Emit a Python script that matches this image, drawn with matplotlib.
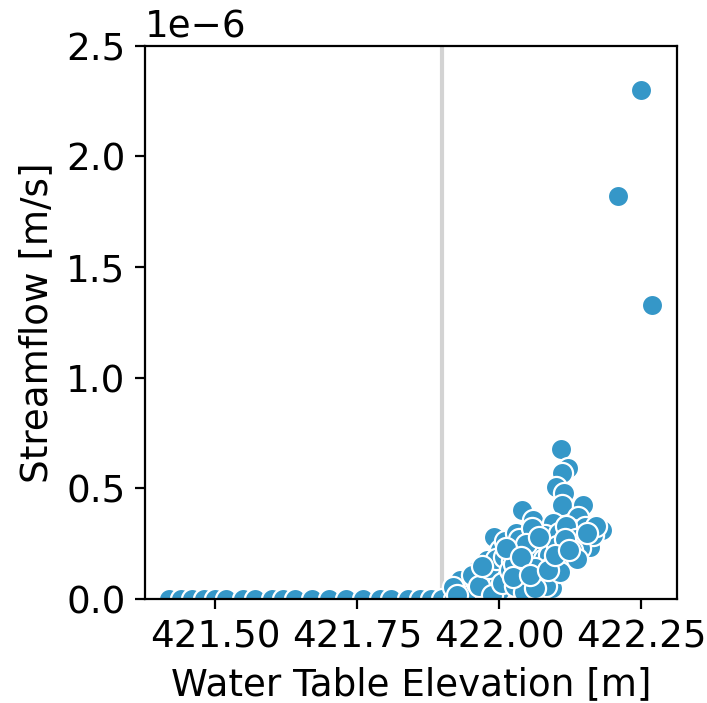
import matplotlib
matplotlib.use('Agg')
from matplotlib import pyplot as plt

# water table elevation [m] and streamflow [1e-6 m/s]
wt_flat = [421.42, 421.44, 421.46, 421.48, 421.50, 421.52, 421.55, 421.57,
           421.60, 421.62, 421.64, 421.67, 421.70, 421.73, 421.76, 421.79,
           421.81, 421.84, 421.86, 421.88, 421.90, 421.92]
q_flat = [0.0] * len(wt_flat)

wt_wet = [422.109, 422.121, 422.111, 422.100, 422.113, 422.111, 422.148, 422.040,
          422.139, 422.180, 421.990, 422.160, 422.081, 422.099, 422.040, 422.069,
          422.099, 422.130, 422.019, 422.067, 422.002, 421.940, 422.093, 421.967,
          421.984, 422.014, 422.060, 422.095, 422.130, 422.151, 422.049, 422.032,
          422.002, 421.979, 422.060, 422.085, 422.113, 422.120, 422.072, 422.049,
          422.032, 421.961, 421.949, 422.037, 422.072, 422.002, 421.972, 421.931,
          421.919, 421.935, 421.955, 421.990, 422.025, 422.055, 422.080, 422.105,
          421.945, 421.975, 422.010, 422.045, 422.075, 422.090, 422.125, 422.145,
          422.165, 422.170, 422.010, 422.030, 422.050, 421.925, 421.960, 422.000,
          421.952, 421.965, 421.982, 421.995, 422.008, 422.022, 422.035, 422.058,
          422.066, 422.078, 422.088, 422.102, 422.118, 422.135, 422.142, 422.155,
          421.970, 421.988, 422.005, 422.018, 422.028, 422.043, 422.062, 422.083,
          422.092, 422.107, 422.128, 422.116, 422.136, 422.063, 422.047, 422.026,
          422.012, 422.024, 422.038, 422.054, 422.070, 422.086, 422.098, 422.122]
q_wet = [0.679, 0.593, 0.570, 0.507, 0.480, 0.425, 0.425, 0.403,
         0.371, 0.312, 0.281, 0.235, 0.326, 0.244, 0.186, 0.167,
         0.118, 0.199, 0.244, 0.267, 0.163, 0.032, 0.050, 0.100,
         0.072, 0.086, 0.357, 0.344, 0.312, 0.326, 0.299, 0.222,
         0.222, 0.176, 0.208, 0.235, 0.281, 0.176, 0.100, 0.100,
         0.131, 0.131, 0.086, 0.041, 0.041, 0.041, 0.041, 0.086,
         0.054, 0.010, 0.060, 0.120, 0.200, 0.260, 0.290, 0.300,
         0.015, 0.030, 0.110, 0.150, 0.210, 0.160, 0.250, 0.280,
         0.290, 0.330, 0.260, 0.300, 0.240, 0.020, 0.070, 0.090,
         0.110, 0.060, 0.140, 0.180, 0.190, 0.170, 0.270, 0.320,
         0.230, 0.180, 0.200, 0.240, 0.330, 0.270, 0.230, 0.300,
         0.150, 0.020, 0.070, 0.130, 0.060, 0.030, 0.140, 0.060,
         0.150, 0.120, 0.220, 0.270, 0.180, 0.050, 0.250, 0.160,
         0.230, 0.100, 0.190, 0.110, 0.280, 0.130, 0.200, 0.220]

wt_peak = [422.250, 422.208, 422.269]
q_peak = [2.30, 1.82, 1.33]

threshold = 421.90

wt = wt_flat + wt_wet + wt_peak
q = [v * 1e-6 for v in q_flat + q_wet + q_peak]

plt.rcParams['font.size'] = 13.4
fig = plt.figure(figsize=(3.535, 3.515), dpi=200)
ax = fig.add_axes([0.205, 0.148, 0.753, 0.787])
ax.axvline(threshold, color='lightgray', lw=1.5, zorder=1)
ax.scatter(wt, q, s=58, c='#3597c8', edgecolors='white', linewidths=0.8, zorder=2)
ax.set_xlim(421.377, 422.313)
ax.set_ylim(0, 2.5e-6)
ax.set_xticks([421.50, 421.75, 422.00, 422.25])
ax.set_xticklabels(['421.50', '421.75', '422.00', '422.25'])
ax.set_xlabel('Water Table Elevation [m]')
ax.set_ylabel('Streamflow [m/s]')
fig.savefig('out.png', dpi=200)
